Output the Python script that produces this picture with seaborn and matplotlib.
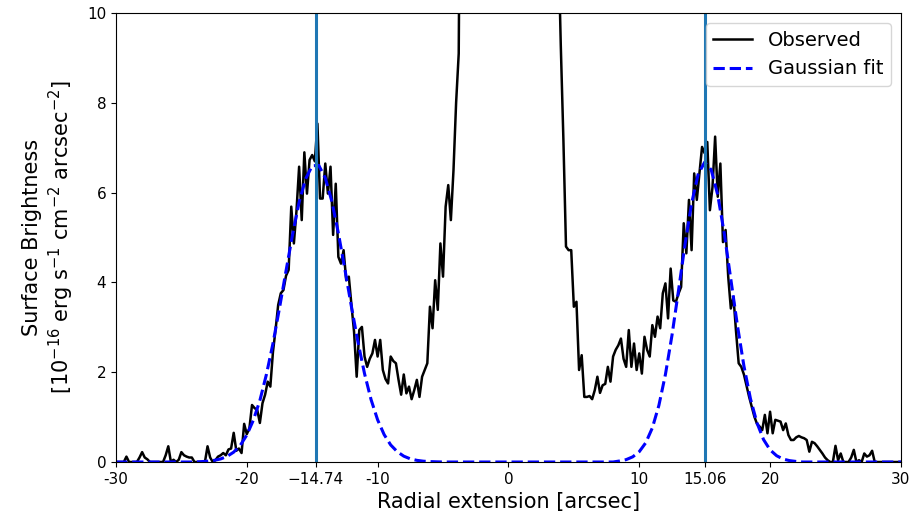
import matplotlib
matplotlib.use("Agg")
import matplotlib.pyplot as plt
import numpy as np
import seaborn as sns

# observed radial profile, 0.2" sampling from -30" to +30"
radius = np.linspace(-30, 30, 301)
observed = [
    0.0, 0.0, 0.0, 0.0, 0.12, 0.0, 0.0, 0.0, 0.0, 0.1,
    0.22, 0.1, 0.06, 0.0, 0.0, 0.0, 0.0, 0.0, 0.0, 0.15,
    0.35, 0.0, 0.05, 0.0, 0.05, 0.22, 0.15, 0.12, 0.1, 0.1,
    0.0, 0.0, 0.0, 0.0, 0.0, 0.35, 0.1, 0.0, 0.04, 0.12,
    0.15, 0.2, 0.15, 0.28, 0.3, 0.65, 0.25, 0.3, 0.2, 0.85,
    0.62, 0.75, 1.27, 1.2, 1.16, 0.87, 1.31, 1.5, 1.79, 1.68,
    2.45, 2.95, 3.5, 3.76, 3.83, 4.15, 4.28, 5.69, 4.87, 5.6,
    6.58, 5.39, 6.9, 5.98, 6.73, 6.84, 6.7, 7.54, 5.87, 5.87,
    6.65, 5.98, 6.58, 5.06, 6.2, 4.57, 4.42, 4.72, 4.05, 4.13,
    3.5, 2.9, 1.9, 2.94, 3.01, 2.35, 2.12, 2.3, 2.42, 2.72,
    2.35, 2.72, 2.05, 1.85, 1.75, 2.35, 2.25, 2.2, 1.83, 1.5,
    1.95, 1.53, 1.68, 1.4, 1.6, 1.83, 1.45, 1.9, 2.05, 2.2,
    3.46, 2.98, 4.05, 3.39, 4.87, 4.13, 5.69, 6.17, 5.39, 6.5,
    8.0, 9.1, 18, 24, 30, 36, 42, 48, 54, 58,
    62, 66, 69, 72, 74, 76, 78, 79, 80, 80,
    80, 80, 79, 78, 76, 74, 72, 69, 66, 62,
    58, 52, 46, 40, 34, 28, 22, 18, 15, 11.8,
    9.3, 7.2, 4.8, 4.72, 4.72, 3.46, 3.57, 2.05, 2.38, 1.45,
    1.45, 1.47, 1.4, 1.6, 1.9, 1.54, 1.71, 1.74, 2.12, 1.79,
    2.35, 2.5, 2.6, 2.75, 2.3, 2.12, 2.94, 2.12, 2.64, 2.05,
    2.42, 1.97, 2.79, 2.5, 2.35, 3.05, 2.79, 3.24, 2.98, 3.76,
    3.98, 3.2, 4.31, 3.6, 3.57, 3.75, 3.9, 5.32, 4.65, 5.84,
    4.72, 6.43, 5.84, 6.43, 7.02, 6.88, 7.13, 5.61, 6.13, 7.25,
    5.91, 6.65, 4.9, 5.17, 4.13, 3.42, 3.68, 2.9, 2.2, 2.12,
    1.95, 1.7, 1.45, 1.23, 1.01, 0.85, 0.79, 0.71, 1.05, 0.64,
    1.12, 0.64, 0.94, 0.92, 0.9, 0.71, 0.86, 0.6, 0.49, 0.49,
    0.55, 0.58, 0.55, 0.53, 0.49, 0.23, 0.45, 0.42, 0.35, 0.27,
    0.19, 0.1, 0.04, 0.0, 0.0, 0.36, 0.04, 0.19, 0.0, 0.0,
    0.0, 0.1, 0.27, 0.0, 0.04, 0.0, 0.19, 0.12, 0.15, 0.25,
    0.0, 0.0, 0.0, 0.0, 0.0, 0.0, 0.0, 0.0, 0.0, 0.0,
    0.0,
]

fit_radius = np.linspace(-30, 30, 121)
gauss_fit = (
    [0.0] * 13
    + [0.008, 0.018, 0.036, 0.068, 0.126, 0.22, 0.37, 0.60, 0.93, 1.37,
       1.95, 2.64, 3.43, 4.26, 5.07, 5.79, 6.31, 6.60, 6.61, 6.33,
       5.81, 5.10, 4.29, 3.46, 2.67, 1.97, 1.39, 0.94, 0.61, 0.38,
       0.23, 0.13, 0.07, 0.037, 0.018, 0.009, 0.004]
    + [0.0] * 27
    + [0.023, 0.053, 0.115, 0.23, 0.43, 0.76, 1.26, 1.95, 2.82, 3.82,
       4.85, 5.76, 6.41, 6.68, 6.51, 5.95, 5.09, 4.07, 3.05, 2.14,
       1.41, 0.87, 0.50, 0.27, 0.14, 0.065, 0.03, 0.012]
    + [0.0] * 16
)

peak_centres = [-14.74, 15.06]
tick_pos = [-30, -20, -14.74, -10, 0, 10, 15.06, 20, 30]
tick_labels = ['-30', '-20', '\u221214.74', '-10', '0', '10', '15.06', '20', '30']

fig, ax = plt.subplots(figsize=(9.24, 5.28), dpi=100)
fig.subplots_adjust(left=0.1255, right=0.975, top=0.975, bottom=0.125)

sns.lineplot(x=radius, y=observed, ax=ax, color='black', lw=1.8, label='Observed')
sns.lineplot(x=fit_radius, y=gauss_fit, ax=ax, color='blue', lw=2.2,
             linestyle='--', label='Gaussian fit')
for c in peak_centres:
    ax.axvline(c, color='tab:blue', lw=2.2)

ax.set_xlim(-30, 30)
ax.set_ylim(0, 10)
ax.set_xticks(tick_pos)
ax.set_xticklabels(tick_labels)
ax.tick_params(labelsize=11)
ax.set_xlabel('Radial extension [arcsec]', fontsize=15)
ax.set_ylabel('Surface Brightness\n[$10^{-16}$ erg s$^{-1}$ cm$^{-2}$ arcsec$^{-2}$]',
              fontsize=15, labelpad=8)
ax.legend(loc='upper right', fontsize=14)

fig.savefig('out.png', dpi=100)
